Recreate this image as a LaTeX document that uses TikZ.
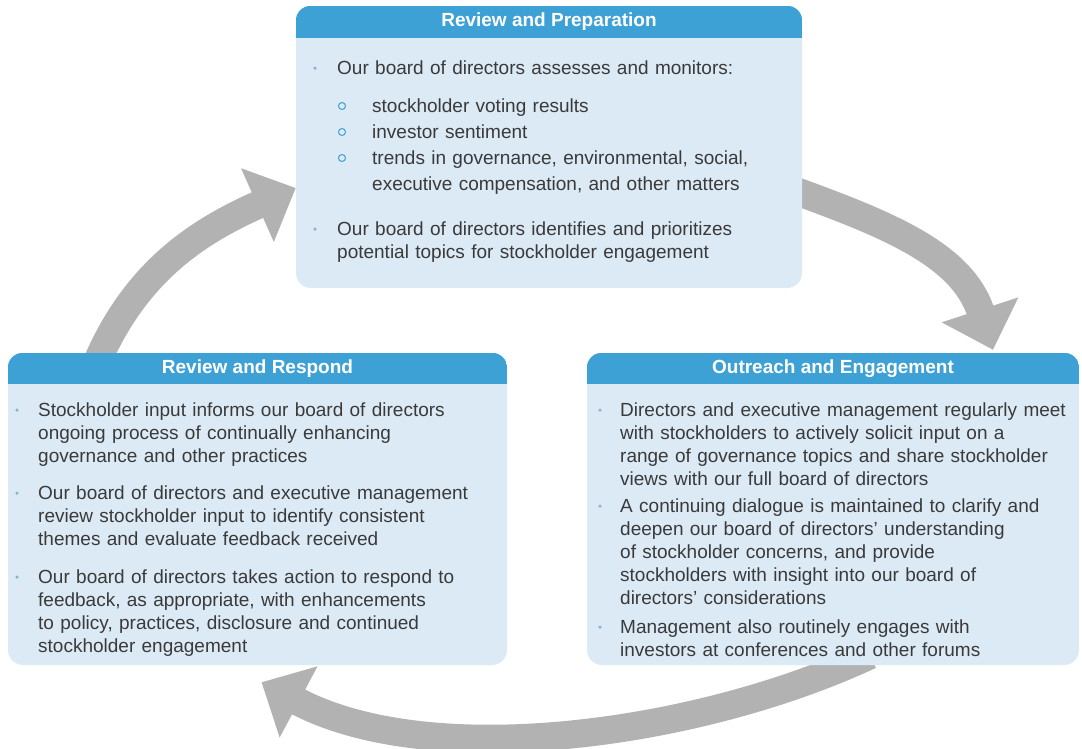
\documentclass[tikz,border=0pt]{standalone}
\usepackage{fontspec}
\setmainfont{Liberation Sans}
\usetikzlibrary{arrows.meta, positioning, calc}

\definecolor{headblue}{RGB}{62,161,214}
\definecolor{boxblue}{RGB}{220,234,245}
\definecolor{txtgray}{RGB}{58,58,58}
\definecolor{dotblue}{RGB}{130,180,212}
\definecolor{arrowgray}{RGB}{178,178,178}

\pgfdeclarelayer{back}
\pgfsetlayers{back,main}

\begin{document}
\begin{tikzpicture}[x=1pt,y=1pt,font=\fontsize{19}{23}\selectfont,
      box/.style={rectangle, fill=boxblue, rounded corners=15pt, inner sep=0pt},
      head/.style={font=\fontsize{19}{23}\selectfont\bfseries, text=white, inner sep=0pt},
      txt/.style={anchor=base west, inner sep=0pt, text width=470pt, align=left, text=txtgray},
      dot/.style={circle, fill=dotblue, inner sep=0pt, minimum size=3.5pt},
      ring/.style={circle, draw=headblue, line width=1pt, inner sep=0pt, minimum size=7pt},
      cycarrow/.style={draw=arrowgray, line width=28pt, -{Triangle[length=42pt,width=78pt]}}]

  \begin{pgfonlayer}{back}
    \fill[white] (0,0) rectangle (1082,-748);
  \end{pgfonlayer}
  \useasboundingbox (0,0) rectangle (1082,-748);

  % top box
  \node[box, minimum width=506pt, minimum height=282pt] (prep) at (549,-147) {};
  \begin{scope}
    \clip[rounded corners=15pt] (prep.south west) rectangle (prep.north east);
    \fill[headblue] (prep.north west) rectangle ([yshift=-32pt]prep.north east);
  \end{scope}
  \node[head] (prephead) at ([yshift=-16pt]prep.north) {Review and Preparation};

  \node[dot] (prepdot1) at (315,-68) {};
  \node[txt] (prep1) at (337,-74) {Our board of directors assesses and monitors:};
  \node[ring] (prepring1) at (342,-106) {};
  \node[txt] (prep1a) at (372,-112) {stockholder voting results};
  \node[ring] (prepring2) at (342,-132) {};
  \node[txt] (prep1b) at (372,-138) {investor sentiment};
  \node[ring] (prepring3) at (342,-158) {};
  \node[txt] (prep1c) at (372,-164) {trends in governance, environmental, social,\\[3pt]
    executive compensation, and other matters};
  \node[dot] (prepdot2) at (315,-229) {};
  \node[txt] (prep2) at (337,-235) {Our board of directors identifies and prioritizes\\
    potential topics for stockholder engagement};

  % left box
  \node[box, minimum width=499pt, minimum height=312pt] (respond) at (257.5,-509) {};
  \begin{scope}
    \clip[rounded corners=15pt] (respond.south west) rectangle (respond.north east);
    \fill[headblue] (respond.north west) rectangle ([yshift=-31pt]respond.north east);
  \end{scope}
  \node[head] (respondhead) at ([yshift=-15.5pt]respond.north) {Review and Respond};

  \node[dot] (respdot1) at (17,-410) {};
  \node[txt] (resp1) at (38,-416) {Stockholder input informs our board of directors\\
    ongoing process of continually enhancing\\
    governance and other practices};
  \node[dot] (respdot2) at (17,-493) {};
  \node[txt] (resp2) at (38,-499) {Our board of directors and executive management\\
    review stockholder input to identify consistent\\
    themes and evaluate feedback received};
  \node[dot] (respdot3) at (17,-577) {};
  \node[txt] (resp3) at (38,-583) {Our board of directors takes action to respond to\\
    feedback, as appropriate, with enhancements\\
    to policy, practices, disclosure and continued\\
    stockholder engagement};

  % right box
  \node[box, minimum width=492pt, minimum height=312pt] (outreach) at (833,-509) {};
  \begin{scope}
    \clip[rounded corners=15pt] (outreach.south west) rectangle (outreach.north east);
    \fill[headblue] (outreach.north west) rectangle ([yshift=-31pt]outreach.north east);
  \end{scope}
  \node[head] (outreachhead) at ([yshift=-15.5pt]outreach.north) {Outreach and Engagement};

  \node[dot] (outdot1) at (600,-410) {};
  \node[txt] (out1) at (620,-416) {Directors and executive management regularly meet\\
    with stockholders to actively solicit input on a\\
    range of governance topics and share stockholder\\
    views with our full board of directors};
  \node[dot] (outdot2) at (600,-506) {};
  \node[txt] (out2) at (620,-512) {A continuing dialogue is maintained to clarify and\\
    deepen our board of directors' understanding\\
    of stockholder concerns, and provide\\
    stockholders with insight into our board of\\
    directors' considerations};
  \node[dot] (outdot3) at (600,-627) {};
  \node[txt] (out3) at (620,-633) {Management also routinely engages with\\
    investors at conferences and other forums};

  % cycle arrows
  \begin{pgfonlayer}{back}
    \draw[cycarrow] ([xshift=86pt,yshift=-17pt]respond.north west) to[out=68,in=204] ([yshift=-41pt]prep.west);
    \draw[cycarrow] ([xshift=-12pt,yshift=-42pt]prep.east) to[out=-20,in=108] ([xshift=160pt,yshift=3pt]outreach.north);
    \draw[cycarrow] ([xshift=37pt,yshift=10pt]outreach.south) to[out=205,in=-28,looseness=.8] ([xshift=4pt,yshift=-17pt]respond.south);
  \end{pgfonlayer}
\end{tikzpicture}
\end{document}
